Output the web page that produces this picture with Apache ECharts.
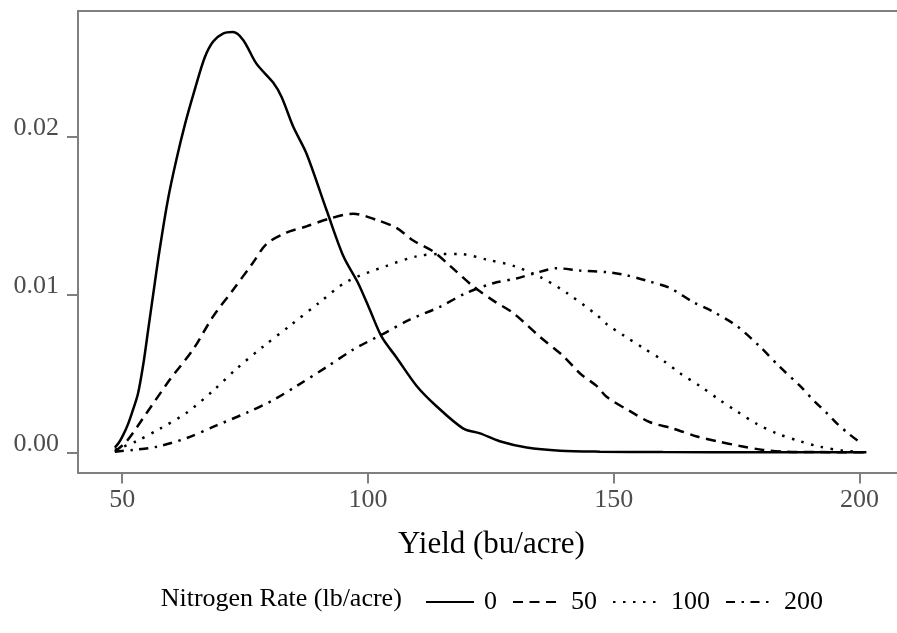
<!DOCTYPE html>
<html>
<head>
<meta charset="utf-8">
<script src="https://cdn.jsdelivr.net/npm/echarts@6/dist/echarts.min.js"></script>
<style>
  html, body { margin: 0; padding: 0; background: #fff; overflow: hidden; }
  #chart { width: 897px; height: 633px; }
</style>
</head>
<body>
<div id="chart"></div>
<script>
// Kernel density of yield for each nitrogen rate (x: bu/acre, y: density)
const yield0 = [48.5, 49.3, 50.2, 51.2, 52.2, 53.2, 54.3, 55.3, 56.3, 57.6, 59.3, 61.0, 62.8, 64.8, 66.8, 68.5, 70.5, 72.5, 74.6, 77.3, 80.7, 82.4, 84.8, 87.5, 91.6, 95.0, 98.0, 100.4, 102.8, 105.8, 109.9, 114.0, 119.4, 122.8, 126.8, 132.3, 139.1, 147.2, 160, 180, 201.4];
const dens0  = [0.0003, 0.0006, 0.0011, 0.0018, 0.0027, 0.0037, 0.0056, 0.0078, 0.0100, 0.0128, 0.0160, 0.0185, 0.0208, 0.0230, 0.0250, 0.0260, 0.0265, 0.0266, 0.0261, 0.0246, 0.0234, 0.0225, 0.0206, 0.0189, 0.0153, 0.0124, 0.0107, 0.0090, 0.0073, 0.0060, 0.0042, 0.0029, 0.0015, 0.0012, 0.0007, 0.0003, 0.0001, 0.00004, 0.00001, 0, 0];

const yield50 = [48.5, 50.9, 55.0, 59.7, 64.4, 68.5, 72.6, 76.6, 79.4, 83.4, 87.5, 92.3, 97.0, 101.8, 105.8, 109.2, 113.3, 116.7, 121.4, 125.5, 129.6, 135.0, 139.7, 143.1, 146.5, 148.6, 153.3, 157.4, 162.1, 166.9, 171.0, 175.7, 180.4, 185.2, 192, 201.4];
const dens50  = [0.00004, 0.0007, 0.0025, 0.0046, 0.0065, 0.0086, 0.0103, 0.0120, 0.0132, 0.0139, 0.0143, 0.0148, 0.0151, 0.0147, 0.0142, 0.0134, 0.0127, 0.0118, 0.0105, 0.0096, 0.0088, 0.0073, 0.0061, 0.0050, 0.0042, 0.0035, 0.0026, 0.0019, 0.0015, 0.0010, 0.0007, 0.0004, 0.00015, 0.00004, 0.00001, 0];

const yield100 = [48.5, 52.9, 57.7, 63.1, 68.5, 73.3, 78.7, 84.1, 90.2, 95.7, 103.8, 109.9, 114.6, 118.7, 124.1, 129.6, 135.0, 140.4, 146.5, 148.6, 152.0, 156.0, 160.1, 163.5, 167.5, 171.6, 175.0, 179.1, 183.1, 187.9, 192.0, 196.7, 200.1];
const dens100  = [0.00015, 0.0007, 0.0015, 0.0025, 0.0039, 0.0053, 0.0067, 0.0080, 0.0095, 0.0108, 0.0118, 0.0124, 0.01255, 0.01255, 0.0122, 0.0118, 0.0111, 0.0101, 0.0087, 0.0081, 0.0074, 0.0066, 0.0058, 0.0050, 0.0042, 0.0033, 0.0026, 0.0018, 0.0012, 0.0007, 0.00035, 0.0001, 0.00003];

const yield200 = [48.5, 52.2, 57.0, 63.1, 69.2, 75.3, 80.7, 85.5, 91.6, 97.0, 103.1, 108.5, 114.6, 120.1, 125.5, 130.2, 133.6, 138.4, 143.1, 148.6, 152.6, 157.4, 161.4, 166.2, 170.2, 175.0, 179.7, 183.8, 187.9, 190.9, 193.3, 195.5, 197.7, 200.4];
const dens200  = [0.00004, 0.00015, 0.00035, 0.0009, 0.0017, 0.0025, 0.0033, 0.0042, 0.0054, 0.0065, 0.0075, 0.0084, 0.0092, 0.0101, 0.0107, 0.0110, 0.0113, 0.01165, 0.0115, 0.0114, 0.0112, 0.0108, 0.0104, 0.0095, 0.0089, 0.0080, 0.0067, 0.0054, 0.0042, 0.0032, 0.0025, 0.0018, 0.0012, 0.00055];

const rateNames = ['0', '50', '100', '200'];
const xTicks = [50, 100, 150, 200];
const yTicks = [0, 0.01, 0.02];

const SERIF = '"Liberation Serif", "Times New Roman", serif';
const GREY = '#7f7f7f';
const X_MIN = 41, X_MAX = 207.63;

const zip = (xs, ys) => xs.map((x, i) => [x, ys[i]]);
const curves = [zip(yield0, dens0), zip(yield50, dens50), zip(yield100, dens100), zip(yield200, dens200)];
const dashes = ['solid', [10, 6.5], [2.5, 7.5], [9, 6.5, 2.5, 6.5]];

const chart = echarts.init(document.getElementById('chart'), null, { renderer: 'canvas' });

chart.setOption({
  animation: false,
  backgroundColor: '#fff',
  grid: { left: 78, right: 0, top: 11, bottom: 160.5, show: false },
  xAxis: [
    {
      type: 'value', min: X_MIN, max: X_MAX, position: 'bottom',
      axisLine: { show: true, onZero: false, lineStyle: { color: GREY, width: 2 } },
      splitLine: { show: false },
      axisTick: { show: true, length: 11, customValues: xTicks, lineStyle: { color: GREY, width: 2 } },
      axisLabel: {
        customValues: xTicks, margin: 15,
        fontFamily: SERIF, fontSize: 26, color: '#4d4d4d'
      }
    },
    {
      // top frame line
      type: 'value', min: X_MIN, max: X_MAX, position: 'top',
      axisLine: { show: true, onZero: false, lineStyle: { color: GREY, width: 2 } },
      axisTick: { show: false }, axisLabel: { show: false }, splitLine: { show: false }
    }
  ],
  yAxis: {
    type: 'value', min: -0.00128, max: 0.02793,
    axisLine: { show: true, onZero: false, lineStyle: { color: GREY, width: 2 } },
    splitLine: { show: false },
    axisTick: { show: true, length: 11, customValues: yTicks, lineStyle: { color: GREY, width: 2 } },
    axisLabel: {
      customValues: yTicks, margin: 19,
      fontFamily: SERIF, fontSize: 26, color: '#4d4d4d',
      verticalAlign: 'bottom', lineHeight: 17,
      formatter: v => v.toFixed(2)
    }
  },
  legend: {
    data: rateNames,
    left: 420, top: 584,
    itemWidth: 48, itemHeight: 14, itemGap: 15,
    itemStyle: { opacity: 0 },
    textStyle: { fontFamily: SERIF, fontSize: 26, color: '#000', padding: [0, 0, 0, 5] }
  },
  graphic: [
    {
      type: 'text', x: 491.5, y: 545,
      style: { text: 'Yield (bu/acre)', fontFamily: SERIF, fontSize: 31, fill: '#000', align: 'center', verticalAlign: 'middle' }
    },
    {
      type: 'text', x: 160.7, y: 599,
      style: { text: 'Nitrogen Rate (lb/acre)', fontFamily: SERIF, fontSize: 26, fill: '#000', align: 'left', verticalAlign: 'middle' }
    }
  ],
  series: rateNames.map((name, i) => ({
    name,
    type: 'line',
    data: curves[i],
    symbol: 'none',
    smooth: 0.3,
    lineStyle: { color: '#000', width: 2.5, type: dashes[i], cap: 'butt' },
    itemStyle: { color: '#000' },
    z: 4 - i
  }))
});
</script>
</body>
</html>
